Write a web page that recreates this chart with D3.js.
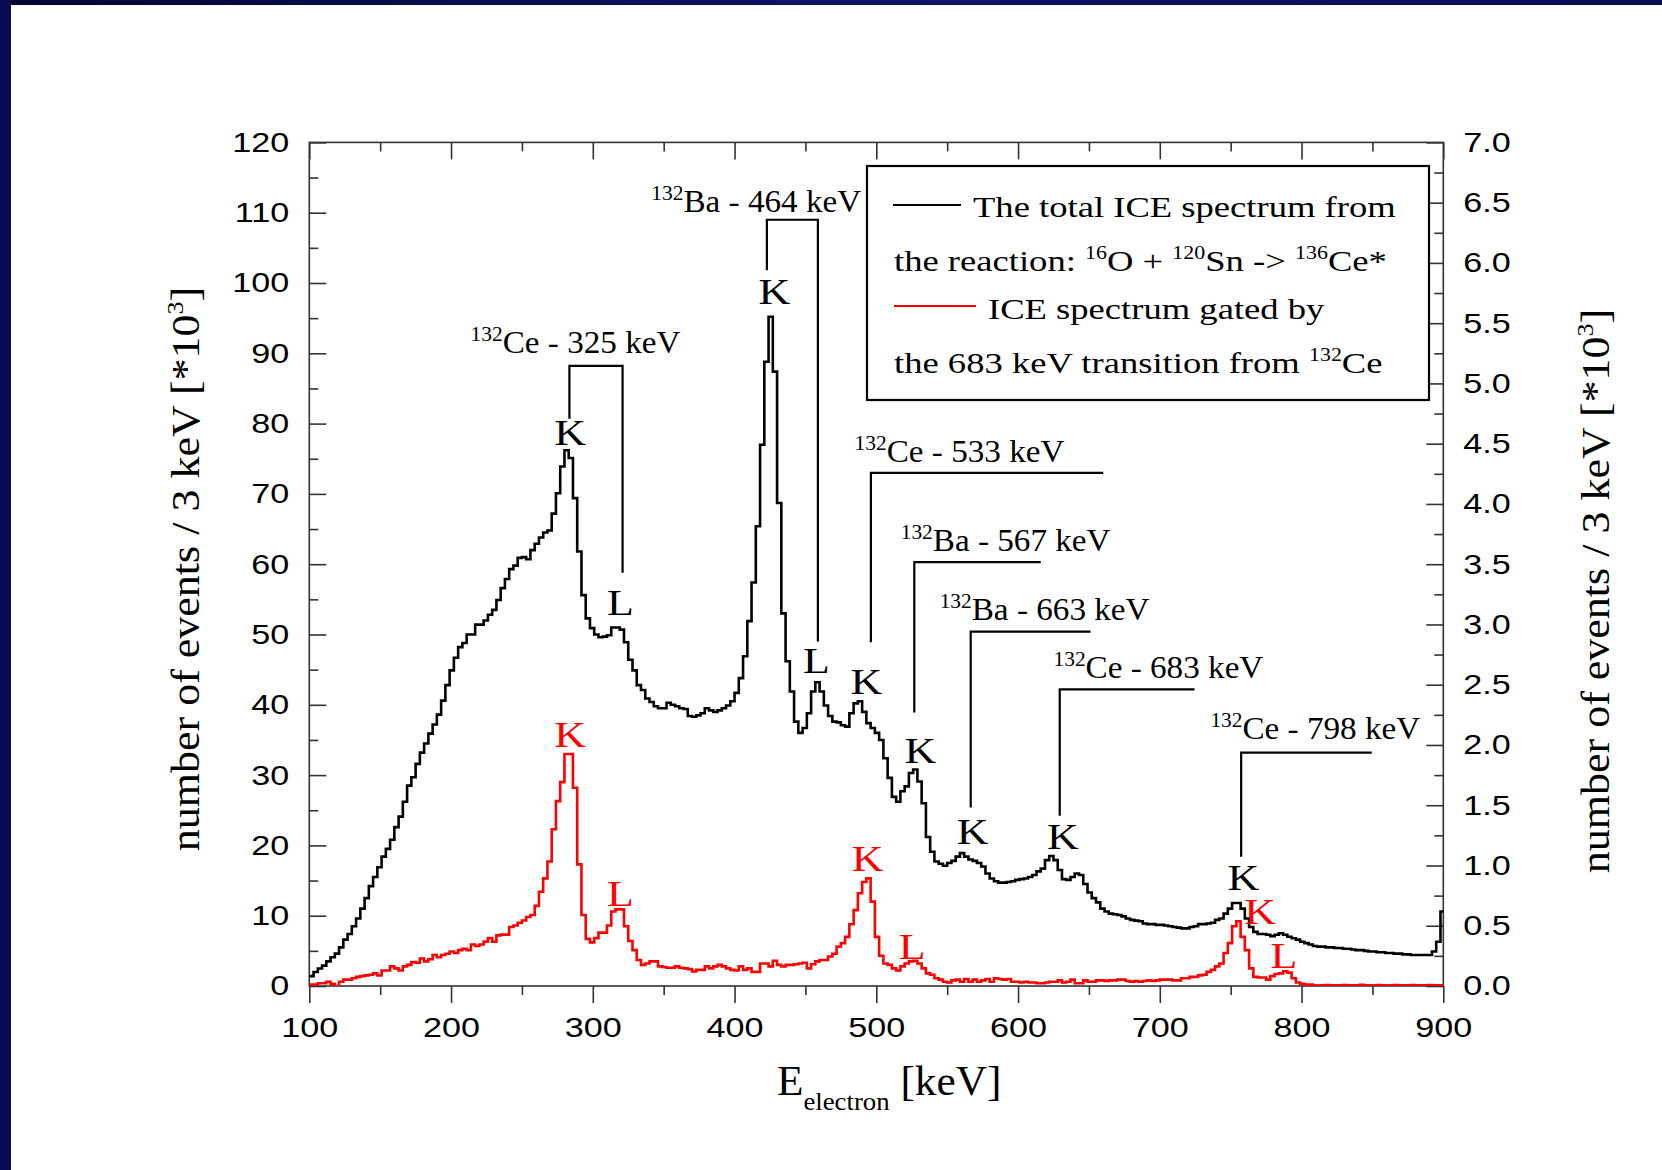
<!DOCTYPE html>
<html><head><meta charset="utf-8">
<script src="https://cdn.jsdelivr.net/npm/d3@7"></script>
<style>html,body{margin:0;padding:0;background:#fff}svg{display:block}</style>
</head><body>
<svg id="c" width="1662" height="1170"></svg>
<script>
// ---------- data ----------
const binStart = 100;      // keV
const binWidth = 3;        // keV per channel
// total ICE spectrum (left axis, x10^3 counts / 3 keV)
const totalCounts = [
1.4,2.0,2.5,2.9,3.5,4.1,4.6,5.5,6.6,7.4,
8.5,9.6,11.0,12.5,14.2,15.5,16.9,18.4,19.5,20.8,
22.6,24.1,26.2,28.5,29.7,31.6,33.2,34.5,35.9,37.2,
38.6,40.6,42.8,44.9,46.7,48.2,48.8,50.0,50.0,51.4,
51.4,52.0,52.8,53.5,54.9,56.6,57.9,59.3,59.8,60.9,
61.0,60.7,62.0,62.9,63.8,64.5,64.8,67.2,70.1,73.9,
76.2,75.1,69.4,61.8,55.6,52.3,50.9,50.0,49.6,49.7,
49.9,51.0,51.0,50.7,48.9,46.4,44.9,42.8,42.1,40.9,
40.4,39.8,39.5,39.5,40.3,40.0,39.8,39.5,39.4,38.4,
38.3,38.5,38.8,39.5,39.2,39.0,39.2,39.5,39.9,40.5,
41.7,43.8,46.9,51.9,57.4,65.4,77.0,88.8,95.2,87.4,
68.7,53.0,46.2,41.9,37.6,36.0,36.7,38.8,41.9,43.2,
41.9,39.9,38.4,37.6,37.5,37.1,36.9,38.8,40.2,40.5,
39.0,37.4,36.7,36.0,35.0,32.4,29.6,26.9,26.2,27.7,
28.4,30.3,30.8,29.1,26.0,21.2,19.1,17.7,17.4,17.1,
17.5,17.8,18.4,18.9,18.4,18.0,17.8,17.5,17.0,16.0,
15.3,14.9,14.7,14.7,14.8,14.9,15.1,15.2,15.3,15.5,
15.8,16.3,16.7,17.9,18.5,17.9,16.5,15.2,15.1,15.5,
16.0,15.8,14.5,13.3,12.5,11.9,11.0,10.6,10.3,10.2,
10.1,9.9,9.6,9.4,9.3,9.2,8.9,8.8,8.8,8.7,
8.7,8.6,8.5,8.4,8.3,8.2,8.2,8.4,8.5,8.8,
8.8,8.9,9.0,9.4,9.6,10.3,11.0,11.8,11.8,11.0,
9.6,8.4,7.7,7.4,7.4,7.3,7.1,7.3,7.5,7.3,
7.0,6.8,6.6,6.3,6.1,5.9,5.7,5.6,5.6,5.5,
5.5,5.4,5.4,5.3,5.3,5.2,5.1,5.1,5.0,4.9,
4.9,4.8,4.8,4.7,4.7,4.6,4.6,4.5,4.5,4.4,
4.4,4.4,4.4,4.4,4.9,6.3,10.6
];
// gated ICE spectrum (right axis, x10^3 counts / 3 keV)
const gatedCounts = [
0.012,0.012,0.023,0.023,0.035,0.018,0.000,0.035,0.053,0.053,
0.064,0.076,0.082,0.088,0.093,0.105,0.088,0.128,0.128,0.163,
0.146,0.128,0.163,0.175,0.198,0.193,0.228,0.204,0.222,0.257,
0.239,0.257,0.268,0.286,0.274,0.298,0.309,0.298,0.344,0.333,
0.344,0.368,0.397,0.368,0.420,0.426,0.426,0.490,0.502,0.525,
0.543,0.572,0.589,0.665,0.782,0.893,1.033,1.301,1.534,1.692,
1.925,1.925,1.645,1.009,0.589,0.391,0.362,0.397,0.443,0.443,
0.502,0.618,0.636,0.636,0.496,0.373,0.298,0.216,0.175,0.187,
0.204,0.204,0.163,0.158,0.152,0.152,0.163,0.152,0.146,0.140,
0.120,0.134,0.134,0.163,0.146,0.163,0.175,0.163,0.146,0.134,
0.128,0.163,0.134,0.146,0.117,0.117,0.187,0.187,0.163,0.210,
0.175,0.163,0.175,0.175,0.181,0.187,0.193,0.146,0.181,0.204,
0.216,0.216,0.245,0.268,0.327,0.356,0.408,0.513,0.630,0.770,
0.863,0.893,0.700,0.408,0.251,0.187,0.175,0.146,0.128,0.163,
0.187,0.204,0.210,0.187,0.146,0.105,0.093,0.064,0.053,0.035,
0.029,0.047,0.053,0.035,0.058,0.035,0.053,0.035,0.047,0.058,
0.035,0.064,0.058,0.053,0.058,0.035,0.035,0.029,0.035,0.029,
0.029,0.023,0.023,0.029,0.035,0.035,0.047,0.029,0.035,0.053,
0.023,0.023,0.047,0.035,0.035,0.047,0.047,0.041,0.047,0.047,
0.053,0.053,0.041,0.035,0.041,0.035,0.041,0.047,0.041,0.047,
0.053,0.053,0.053,0.047,0.047,0.064,0.064,0.076,0.076,0.088,
0.093,0.117,0.134,0.163,0.187,0.274,0.356,0.496,0.537,0.408,
0.298,0.146,0.076,0.070,0.070,0.053,0.082,0.099,0.105,0.123,
0.111,0.064,0.029,0.018,0.012,0.012,0.006,0.004,0.006,0.008,
0.006,0.005,0.006,0.007,0.006,0.005,0.006,0.009,0.006,0.005,
0.006,0.007,0.006,0.004,0.006,0.008,0.006,0.005,0.006,0.007,
0.005,0.006,0.006,0.008,0.006,0.005,0.006
];
const xTickValues = [100,200,300,400,500,600,700,800,900];
const xMinorValues = [150,250,350,450,550,650,750,850];
const yLeftTickValues = [0,10,20,30,40,50,60,70,80,90,100,110,120];
const yLeftMinorValues = [5,15,25,35,45,55,65,75,85,95,105,115];
const yRightTickValues = [0,0.5,1,1.5,2,2.5,3,3.5,4,4.5,5,5.5,6,6.5,7];
const yRightMinorValues = [0.25,0.75,1.25,1.75,2.25,2.75,3.25,3.75,4.25,4.75,5.25,5.75,6.25,6.75];

// transition brackets (energies in keV, heights in left-axis units)
const bracketIso   = ["132","132","132","132","132","132","132"];
const bracketEl    = ["Ce","Ba","Ce","Ba","Ba","Ce","Ce"];
const bracketE     = ["325","464","533","567","663","683","798"];
const bracketK     = [283.5,422.8,496.2,526.8,566.6,629.4,757.4];
const bracketL     = [321.0,458.8,null,null,null,null,null];
const bracketTop   = [88.2,109.0,73.0,60.3,50.4,42.2,33.2];
const bracketBarTo = [321.0,458.8,660.1,616.0,651.1,724.5,849.5];
const bracketKEnd  = [80.7,101.8,48.9,38.9,25.4,24.2,18.4];
const bracketLEnd  = [58.8,49.0,null,null,null,null,null];
const bracketTextX = [213.8,341.3,484.7,517.2,544.7,625.0,735.7];
const bracketTextY = [90.0,110.1,74.5,61.9,52.1,43.8,35.1];

// K / L line labels (keV, left-axis units)
const shellText  = ["K","L","K","L","K","K","K","K","K","K","L","K","L","K","L"];
const shellX     = [284,319.5,428,457.8,493,531,568,631.6,758.9,284,319.5,493.8,525.3,770.7,787.6];
const shellY     = [77.0,52.8,97.0,44.5,41.5,31.7,20.2,19.5,13.7,34.0,11.4,16.3,3.8,8.8,2.6];
const shellColor = ["#000","#000","#000","#000","#000","#000","#000","#000","#000","red","red","red","red","red","red"];

// ---------- drawing ----------
const W = 1662, H = 1170;
const SX_SANS = 1.22, SX_LEG = 1.22, SX_ANN = 1.07, SX_YT = 0.9, SX_XT = 1.03;
const svg = d3.select("#c");
const plot = {l:309.3, r:1443.3, t:142.4, b:986};
const x = d3.scaleLinear().domain([100,900]).range([plot.l, plot.r]);
const y = d3.scaleLinear().domain([0,120]).range([plot.b, plot.t]);
const yR = d3.scaleLinear().domain([0,7]).range([plot.b, plot.t]);

// page frame
const defs = svg.append("defs");
const grad = defs.append("linearGradient").attr("id","navy").attr("x1",0).attr("x2",1);
grad.append("stop").attr("offset",0).attr("stop-color","#05052e");
grad.append("stop").attr("offset",0.5).attr("stop-color","#0d1466");
grad.append("stop").attr("offset",1).attr("stop-color","#0a0f55");
svg.append("rect").attr("width",W).attr("height",H).attr("fill","#fff");
svg.append("rect").attr("x",0).attr("y",0).attr("width",W).attr("height",5).attr("fill","url(#navy)");
svg.append("rect").attr("x",0).attr("y",0).attr("width",11).attr("height",H).attr("fill","#0a0a55");

defs.append("clipPath").attr("id","clip")
  .append("rect").attr("x",plot.l).attr("y",plot.t).attr("width",plot.r-plot.l).attr("height",plot.b-plot.t);

const axisColor = "#333";
function styleAxis(g){
  g.select(".domain").remove();
  g.selectAll(".tick line").attr("stroke",axisColor).attr("stroke-width",1.6);
  g.selectAll("text").attr("fill","#000").attr("font-family","'Liberation Sans', Arial, sans-serif").attr("font-size",28);
}
// left
svg.append("g").attr("transform",`translate(${plot.l},0)`)
  .call(d3.axisLeft(y).tickValues(yLeftMinorValues).tickSize(-9).tickFormat("")).call(styleAxis);
const gl = svg.append("g").attr("transform",`translate(${plot.l},0)`)
  .call(d3.axisLeft(y).tickValues(yLeftTickValues).tickSize(-17).tickPadding(20).tickFormat(d3.format("d"))).call(styleAxis);
gl.selectAll("text").attr("x",-20/SX_SANS).attr("transform",`scale(${SX_SANS},1)`);
// right
svg.append("g").attr("transform",`translate(${plot.r},0)`)
  .call(d3.axisRight(yR).tickValues(yRightMinorValues).tickSize(-9).tickFormat("")).call(styleAxis);
const gr = svg.append("g").attr("transform",`translate(${plot.r},0)`)
  .call(d3.axisRight(yR).tickValues(yRightTickValues).tickSize(-17).tickPadding(20).tickFormat(d3.format(".1f"))).call(styleAxis);
gr.selectAll("text").attr("x",20/SX_SANS).attr("transform",`scale(${SX_SANS},1)`);
// top
svg.append("g").attr("transform",`translate(0,${plot.t})`)
  .call(d3.axisTop(x).tickValues(xMinorValues).tickSize(-9).tickFormat("")).call(styleAxis);
svg.append("g").attr("transform",`translate(0,${plot.t})`)
  .call(d3.axisTop(x).tickValues(xTickValues).tickSize(-17).tickFormat("")).call(styleAxis);
// bottom
svg.append("g").attr("transform",`translate(0,${plot.b})`)
  .call(d3.axisBottom(x).tickValues(xMinorValues).tickSize(9).tickFormat("")).call(styleAxis);
const gb = svg.append("g").attr("transform",`translate(0,${plot.b})`)
  .call(d3.axisBottom(x).tickValues(xTickValues).tickSize(17).tickPadding(14).tickFormat(d3.format("d"))).call(styleAxis);
gb.selectAll("text").attr("transform",`scale(${SX_SANS},1)`);

// frame
svg.append("rect").attr("x",plot.l).attr("y",plot.t).attr("width",plot.r-plot.l).attr("height",plot.b-plot.t)
  .attr("fill","none").attr("stroke",axisColor).attr("stroke-width",1.6);

// spectra as step histograms
function stepPoints(arr){
  const pts = arr.map((v,i)=>[binStart+i*binWidth, v]);
  pts.push([binStart+arr.length*binWidth, arr[arr.length-1]]);
  return pts;
}
const lineL = d3.line().x(d=>x(d[0])).y(d=>y(d[1])).curve(d3.curveStepAfter);
const lineR = d3.line().x(d=>x(d[0])).y(d=>yR(d[1])).curve(d3.curveStepAfter);
const gData = svg.append("g").attr("clip-path","url(#clip)");
gData.append("path").attr("d",lineR(stepPoints(gatedCounts))).attr("fill","none").attr("stroke","#ff0000").attr("stroke-width",2.6);
gData.append("path").attr("d",lineL(stepPoints(totalCounts))).attr("fill","none").attr("stroke","#000").attr("stroke-width",2.6);

const serif = "'Liberation Serif','Times New Roman',serif";
function stretchedText(g, px, py, sx, rot){
  return g.append("text").attr("transform",`translate(${px},${py}) scale(${sx},1)` + (rot?` rotate(${rot})`:""))
    .attr("font-family",serif).attr("fill","#000");
}

// brackets
const gB = svg.append("g");
bracketE.forEach((e,i)=>{
  const p = gB.append("path").attr("fill","none").attr("stroke","#000").attr("stroke-width",2.2);
  let d = `M${x(bracketK[i])},${y(bracketKEnd[i])}V${y(bracketTop[i])}H${x(bracketBarTo[i])}`;
  if (bracketL[i]!==null) d += `V${y(bracketLEnd[i])}`;
  p.attr("d",d);
  const t = stretchedText(gB, x(bracketTextX[i]), y(bracketTextY[i]), SX_ANN).attr("font-size",31);
  t.append("tspan").attr("font-size",20).attr("dy",-12).text(bracketIso[i]);
  t.append("tspan").attr("dy",12).text(`${bracketEl[i]} - ${e} keV`);
});
// K/L labels
shellText.forEach((s,i)=>{
  stretchedText(svg, x(shellX[i]), y(shellY[i]), 1.22).attr("font-size",36).attr("text-anchor","middle")
    .attr("fill",shellColor[i]).text(s);
});

// legend
const lg = svg.append("g");
lg.append("rect").attr("x",867).attr("y",166).attr("width",562).attr("height",234).attr("fill","#fff").attr("stroke","#000").attr("stroke-width",2.2);
lg.append("line").attr("x1",893).attr("x2",961).attr("y1",205).attr("y2",205).attr("stroke","#000").attr("stroke-width",2);
lg.append("line").attr("x1",894).attr("x2",976).attr("y1",306).attr("y2",306).attr("stroke","#ff0000").attr("stroke-width",2);
stretchedText(lg, 973, 217, SX_LEG).attr("font-size",30).text("The total ICE spectrum from");
const l2 = stretchedText(lg, 894, 271, SX_LEG).attr("font-size",30);
l2.append("tspan").text("the reaction: ");
l2.append("tspan").attr("font-size",18).attr("dy",-12).text("16");
l2.append("tspan").attr("dy",12).text("O + ");
l2.append("tspan").attr("font-size",18).attr("dy",-12).text("120");
l2.append("tspan").attr("dy",12).text("Sn -> ");
l2.append("tspan").attr("font-size",18).attr("dy",-12).text("136");
l2.append("tspan").attr("dy",12).text("Ce*");
stretchedText(lg, 988, 319, SX_LEG).attr("font-size",30).text("ICE spectrum gated by");
const l4 = stretchedText(lg, 894, 373, SX_LEG).attr("font-size",30);
l4.append("tspan").text("the 683 keV transition from ");
l4.append("tspan").attr("font-size",18).attr("dy",-12).text("132");
l4.append("tspan").attr("dy",12).text("Ce");

// axis titles
function yTitle(px, py){
  const t = stretchedText(svg, px, py, SX_YT, -90).attr("font-size",44).attr("text-anchor","middle");
  t.append("tspan").text("number of events  / 3 keV  [*10");
  t.append("tspan").attr("font-size",26).attr("dy",-18).text("3");
  t.append("tspan").attr("dy",18).text("]");
}
yTitle(199, 569);
yTitle(1609, 591);
const xt = stretchedText(svg, 777, 1095, SX_XT).attr("font-size",42);
xt.append("tspan").text("E");
xt.append("tspan").attr("font-size",26).attr("dy",15).text("electron");
xt.append("tspan").attr("dy",-15).text(" [keV]");
</script>
</body></html>
